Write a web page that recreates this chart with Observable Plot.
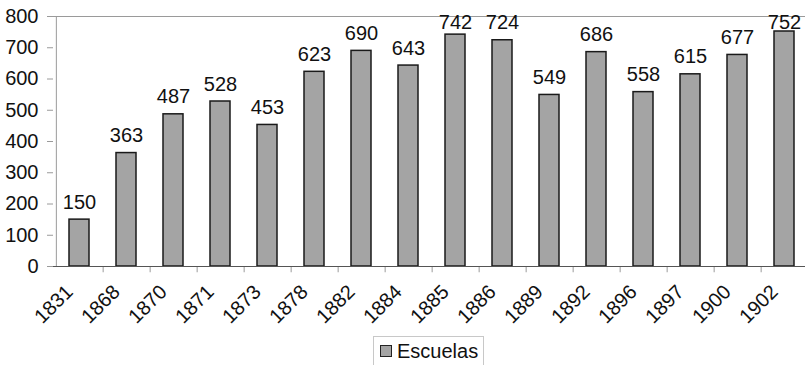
<!DOCTYPE html>
<html>
<head>
<meta charset="utf-8">
<script src="https://cdn.jsdelivr.net/npm/d3@7"></script>
<script src="https://cdn.jsdelivr.net/npm/@observablehq/plot@0.6"></script>
<style>
  html, body { margin: 0; padding: 0; background: #fff; overflow: hidden; }
  body { width: 805px; height: 365px; position: relative; font-family: "Liberation Sans", Arial, sans-serif; }
  #legend { position: absolute; left: 373px; top: 336px; width: 111px; height: 30px; border: 1px solid #c8c8c8; box-sizing: border-box;
            display: flex; align-items: center; font-size: 20px; color: #111; }
  #legend .sw { width: 10px; height: 10px; background: #a4a4a4; border: 1px solid #222; margin: 0 5px 0 6px; }
  #chart svg text { font-family: "Liberation Sans", Arial, sans-serif; }
</style>
</head>
<body>
<div id="chart"></div>
<div id="legend"><span class="sw"></span><span>Escuelas</span></div>
<script>
const years = ["1831","1868","1870","1871","1873","1878","1882","1884","1885","1886","1889","1892","1896","1897","1900","1902"];
const escuelas = [150,363,487,528,453,623,690,643,742,724,549,686,558,615,677,752];
const yTicks = [0,100,200,300,400,500,600,700,800];
const seriesName = "Escuelas";

const data = years.map((y, i) => ({year: y, value: escuelas[i]}));
const step = (809.3 - 52.5) / years.length;

const chart = Plot.plot({
  width: 805,
  height: 333,
  marginLeft: 53,
  marginTop: 16,
  marginBottom: 67,
  marginRight: 0,
  style: {fontFamily: "'Liberation Sans', Arial, sans-serif", fontSize: "20px", color: "#111", background: "#fff", maxWidth: "none"},
  x: {domain: years, range: [52.5, 809.3], paddingInner: 0.58, paddingOuter: 0.29, label: null},
  y: {domain: [0, 800], label: null},
  marks: [
    Plot.ruleY([800], {stroke: "#9a9a9a", strokeWidth: 1}),
    Plot.ruleX(years.slice(0, -1), {x: d => d, dx: step / 2, y1: 0, y2: -20, stroke: "#9a9a9a", strokeWidth: 1}),
    Plot.axisY({ticks: yTicks, tickSize: 6, tickPadding: 9, stroke: "#9a9a9a", fontSize: 20, tickFormat: d => d}),
    Plot.ruleX([0], {x: () => years[0], dx: -step / 2 + 0.5, y1: 0, y2: 800, stroke: "#9a9a9a", strokeWidth: 1}),
    Plot.axisX({tickSize: 0, tickRotate: -45, tickPadding: 22, fontSize: 20, dx: -10}),
    Plot.barY(data, {x: "year", y: "value", fill: "#a4a4a4", stroke: "#1a1a1a", strokeWidth: 1.5}),
    Plot.ruleY([0], {stroke: "#555", strokeWidth: 1}),
    Plot.text(data, {x: "year", y: d => Math.min(d.value, 725), text: d => String(d.value), lineAnchor: "bottom", dy: -11, fontSize: 20, fill: "#111"})
  ]
});
document.getElementById("chart").appendChild(chart);
</script>
</body>
</html>
